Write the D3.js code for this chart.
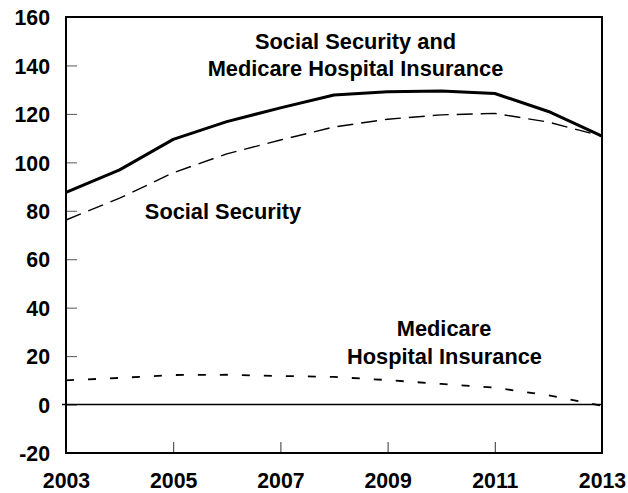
<!DOCTYPE html>
<html><head><meta charset="utf-8">
<script src="https://cdn.jsdelivr.net/npm/d3@7"></script>
<style>body{margin:0;background:#fff}text{font-family:"Liberation Sans",Arial,sans-serif;font-weight:bold}</style>
</head><body><svg id="c" width="628" height="493"></svg>
<script>
const years = [2003,2004,2005,2006,2007,2008,2009,2010,2011,2012,2013];
const combined = [87.6,96.9,109.5,116.8,122.5,127.8,129.1,129.5,128.4,121.0,110.8];
const socialSecurity = [76.2,85.2,95.7,103.5,109.2,114.6,117.8,119.6,120.2,116.6,110.8];
const medicareHI = [10.0,11.0,12.2,12.3,11.8,11.4,10.1,8.5,7.0,3.8,-0.5];
const yTicks = [-20,0,20,40,60,80,100,120,140,160];
const xTicks = [2003,2005,2007,2009,2011,2013];

const svg = d3.select("#c");
const L=66,R=602,T=17,B=453;
const x = d3.scaleLinear().domain([2003,2013]).range([L,R]);
const y = d3.scaleLinear().domain([-20,160]).range([B,T]);

const ya = svg.append("g").attr("transform",`translate(${L},0)`)
  .call(d3.axisLeft(y).tickValues(yTicks).tickFormat(d=>String(d)).tickSize(-11).tickPadding(16));
ya.select(".domain").remove();
ya.selectAll(".tick line").attr("stroke","#555").attr("stroke-width",1);
ya.selectAll(".tick text").attr("font-size",21.3).attr("fill","#000").attr("dy","0.36em");

const xa = svg.append("g").attr("transform",`translate(0,${B})`)
  .call(d3.axisBottom(x).tickValues(xTicks).tickFormat(d=>String(d)).tickSize(-11).tickPadding(20));
xa.select(".domain").remove();
xa.selectAll(".tick line").attr("stroke","#333").attr("stroke-width",1);
xa.selectAll(".tick text").attr("font-size",21.3).attr("fill","#000");

svg.append("line").attr("x1",L-4).attr("x2",R).attr("y1",y(0)).attr("y2",y(0))
  .attr("stroke","#000").attr("stroke-width",1.6);

svg.append("rect").attr("x",L).attr("y",T).attr("width",R-L).attr("height",B-T)
  .attr("fill","none").attr("stroke","#000").attr("stroke-width",2);

const line = vals => d3.line().x((d,i)=>x(years[i])).y(d=>y(d))(vals);
svg.append("path").attr("d",line(medicareHI)).attr("fill","none").attr("stroke","#000")
  .attr("stroke-width",1.8).attr("stroke-dasharray","8,14");
svg.append("path").attr("d",line(socialSecurity)).attr("fill","none").attr("stroke","#000")
  .attr("stroke-width",1.4).attr("stroke-dasharray","16,8");
svg.append("path").attr("d",line(combined)).attr("fill","none").attr("stroke","#000")
  .attr("stroke-width",3).attr("stroke-linejoin","round");

const labels = [
  {t:"Social Security and", x:355.5, y:48.5},
  {t:"Medicare Hospital Insurance", x:355.5, y:76},
  {t:"Social Security", x:223, y:219},
  {t:"Medicare", x:444, y:336},
  {t:"Hospital Insurance", x:444.5, y:363.5}
];
svg.selectAll("text.lab").data(labels).enter().append("text").attr("class","lab")
  .attr("x",d=>d.x).attr("y",d=>d.y).attr("text-anchor","middle").attr("font-size",21.8)
  .text(d=>d.t);
</script></body></html>
